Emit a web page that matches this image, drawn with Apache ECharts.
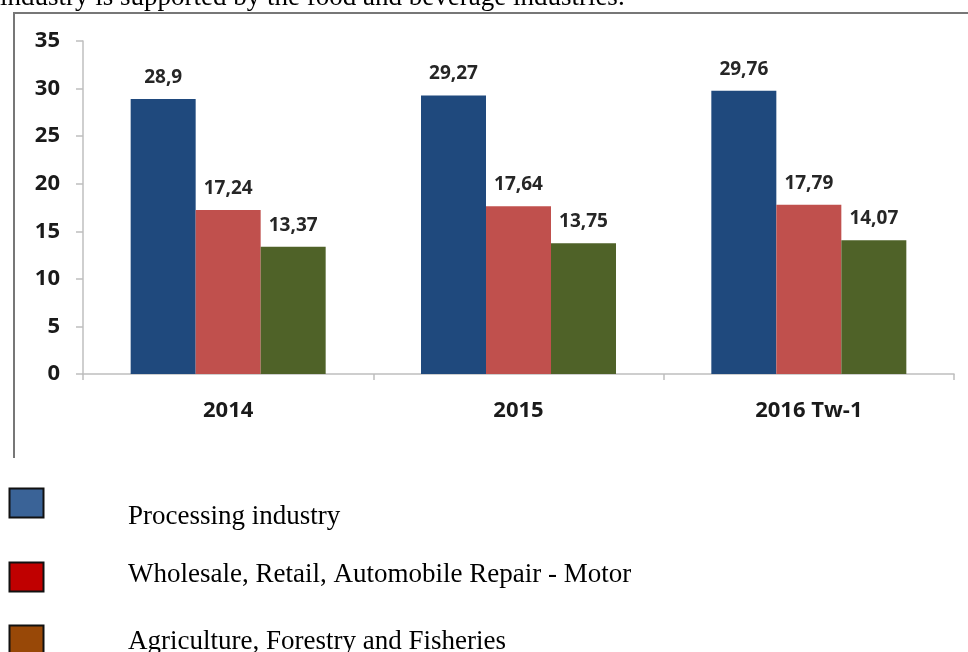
<!DOCTYPE html>
<html>
<head>
<meta charset="utf-8">
<script src="https://cdn.jsdelivr.net/npm/echarts@6/dist/echarts.min.js"></script>
<style>
  html, body { margin: 0; padding: 0; background: #fff; }
  #container { width: 968px; height: 652px; }
</style>
</head>
<body>
<div id="container"></div>
<script>
  var categories = ['2014', '2015', '2016 Tw-1'];
  var seriesNames = ['Processing industry', 'Wholesale, Retail, Automobile Repair - Motor', 'Agriculture, Forestry and Fisheries'];
  var processing = [28.9, 29.27, 29.76];
  var wholesale = [17.24, 17.64, 17.79];
  var agriculture = [13.37, 13.75, 14.07];
  var yTicks = [0, 5, 10, 15, 20, 25, 30, 35];

  var barColors = ['#1f497d', '#c0504d', '#4f6228'];
  var legendColors = ['#3a6397', '#c00000', '#984807'];

  var dom = document.getElementById('container');
  var myChart = echarts.init(dom);

  // 数值标签用逗号作小数点
  function commaLabel(p) {
      return String(p.value).replace('.', ',');
  }

  function makeBar(name, data, idx) {
      return {
          name: name,
          type: 'bar',
          data: data,
          barWidth: 65,
          barGap: '0%',
          itemStyle: { color: barColors[idx] },
          label: {
              show: true,
              position: 'top',
              distance: 12,
              formatter: commaLabel,
              fontFamily: 'Open Sans',
              fontWeight: 'bold',
              fontSize: 19,
              color: '#262626'
          }
      };
  }

  // 图例（手工画）
  var legendTop = [488, 562, 625];
  var legendBase = [525, 583, 650];
  var graphics = [
      {
          type: 'text',
          left: 0,
          top: -16,
          style: {
              text: 'industry is supported by the food and beverage industries.',
              font: '27px "Liberation Serif"',
              fill: '#000'
          }
      },
      {
          type: 'polyline',
          shape: { points: [[14, 458], [14, 13], [968, 13]] },
          style: { stroke: '#777', lineWidth: 2, fill: null }
      }
  ];
  seriesNames.forEach(function (n, i) {
      graphics.push({
          type: 'rect',
          shape: { x: 9.5, y: legendTop[i] + 0.5, width: 34, height: 29 },
          style: { fill: legendColors[i], stroke: '#111', lineWidth: 2 }
      });
      graphics.push({
          type: 'text',
          x: 128,
          y: legendBase[i] - 22,
          style: {
              text: n,
              font: '27px "Liberation Serif"',
              fill: '#000'
          }
      });
  });

  option = {
      animation: false,
      grid: {
          left: 83,
          right: 14,
          top: 41,
          bottom: 278
      },
      xAxis: {
          type: 'category',
          data: categories,
          axisLine: { lineStyle: { color: '#bfbfbf', width: 1.5 } },
          axisTick: { show: true, length: 6, lineStyle: { color: '#bfbfbf', width: 1.5 } },
          axisLabel: {
              margin: 26,
              fontFamily: 'Open Sans',
              fontWeight: 'bold',
              fontSize: 22,
              color: '#1a1a1a'
          }
      },
      yAxis: {
          type: 'value',
          min: yTicks[0],
          max: yTicks[yTicks.length - 1],
          interval: 5,
          axisLine: { show: true, lineStyle: { color: '#bfbfbf', width: 1.5 } },
          axisTick: { show: true, length: 7, lineStyle: { color: '#bfbfbf', width: 1.5 } },
          splitLine: { show: false },
          axisLabel: {
              margin: 23,
              fontFamily: 'Open Sans',
              fontWeight: 'bold',
              fontSize: 22,
              color: '#1a1a1a'
          }
      },
      graphic: graphics,
      series: [
          makeBar(seriesNames[0], processing, 0),
          makeBar(seriesNames[1], wholesale, 1),
          makeBar(seriesNames[2], agriculture, 2)
      ]
  };

  if (option && typeof option === "object") {
      myChart.setOption(option, true);
  }
</script>
</body>
</html>
